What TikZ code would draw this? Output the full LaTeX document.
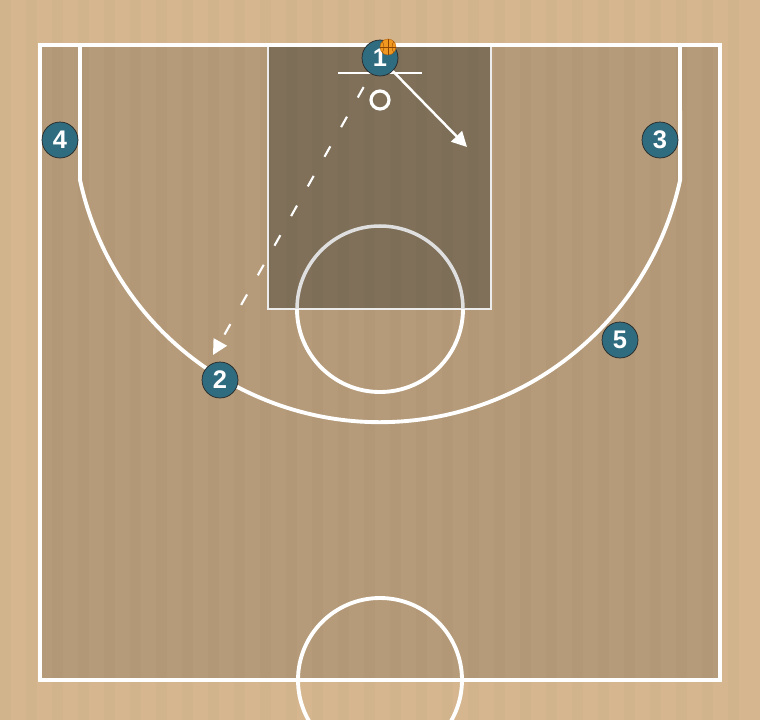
\documentclass[tikz,border=0pt]{standalone}
\usepackage{fontspec}
\setsansfont{Liberation Sans}
\usetikzlibrary{arrows.meta, positioning, calc}
\definecolor{woodbg}{RGB}{213,182,143}
\definecolor{courtwood}{RGB}{181,155,121}
\definecolor{lanewood}{RGB}{128,112,89}
\definecolor{playerteal}{RGB}{47,108,128}
\definecolor{ballorange}{RGB}{240,152,32}

\begin{document}
\begin{tikzpicture}[x=0.02cm, y=-0.02cm,
    courtline/.style={draw=white, line width=2.2pt},
    laneline/.style={draw=white!85!gray, line width=1.4pt},
    player/.style={circle, draw=black!85, thin, fill=playerteal,
      minimum size=0.72cm, inner sep=0pt, text=white,
      font=\fontsize{14.5pt}{14.5pt}\sffamily\bfseries},
    ball/.style={circle, fill=ballorange, draw=orange!70!black, very thin,
      minimum size=0.32cm, inner sep=0pt},
    cut/.style={white, line width=1.4pt,
      -{Triangle[length=0.3cm, width=0.3cm]}},
    pass/.style={white, line width=1.2pt, dash pattern=on 0.24cm off 0.44cm,
      -{Triangle[length=0.3cm, width=0.3cm]}} ]
    % Floor
    \clip (0,0) rectangle (760,720);
    \fill[woodbg] (0,0) rectangle (760,720);
    \fill[courtwood] (40,45) rectangle (720,680);
    \fill[lanewood] (268,45) rectangle (491,309);
    \foreach \x in {0,26,...,750} \fill[black, opacity=0.015] (\x,0) rectangle ++(11,720);

    % Lane and free throw circle
    \draw[laneline] (268,45) rectangle (491,309);
    \draw[draw=white!75!gray, line width=2pt] (297,309) arc[start angle=180, end angle=360, radius=83];
    \draw[courtline] (297,309) arc[start angle=180, end angle=0, radius=83];

    % Court lines
    \draw[courtline] (40,45) rectangle (720,680);
    \draw[courtline] (80,45) -- (80,180) arc[start angle=167.8, end angle=12.2, radius=307] -- (680,45);
    \draw[courtline] (380,680) circle[radius=82];

    % Basket
    \draw[white, line width=1pt] (338,73) -- (422,73);
    \draw[white, line width=1.8pt] (380,100) circle[radius=9];

    % Players
    \node[player] (p1) at (380,58) {1}; \node[player] (p2) at (220,380) {2};
    \node[player] (p3) at (660,140) {3}; \node[player] (p4) at (60,140) {4};
    \node[player] (p5) at (620,340) {5};

    % Ball
    \node[ball] (bb) at (388,47) {};
    \draw[orange!55!black, very thin] (bb.north) -- (bb.south) (bb.west) -- (bb.east);
    \draw[orange!55!black, very thin] (bb.north west) to[bend left=30] (bb.south west);
    \draw[orange!55!black, very thin] (bb.north east) to[bend right=30] (bb.south east);

    % Cut and pass
    \coordinate (cutend) at (467,147); \coordinate (passend) at (213,355);
    \draw[cut] (p1) -- (cutend);
    \draw[pass, shorten <=0.3cm] (p1) -- (passend);
  \end{tikzpicture}
\end{document}
